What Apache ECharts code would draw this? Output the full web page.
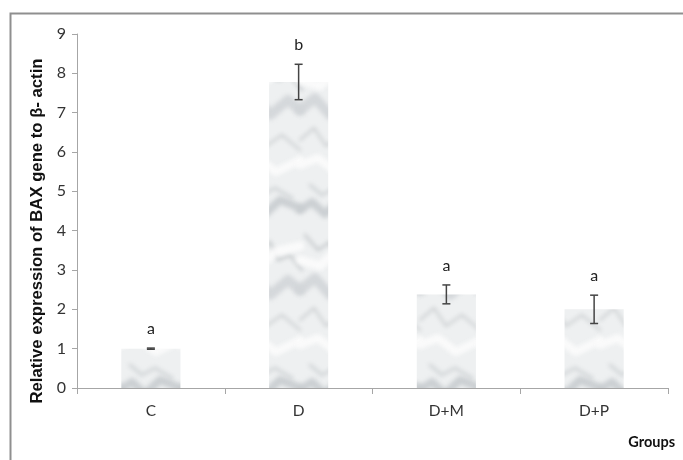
<!DOCTYPE html>
<html><head><meta charset="utf-8">
<script src="https://cdn.jsdelivr.net/npm/echarts@6/dist/echarts.min.js"></script>
<style>html,body{margin:0;padding:0;background:#fff}#c{width:683px;height:460px}</style>
</head><body><div id="c"></div>
<script>
var categories = ['C', 'D', 'D+M', 'D+P'];
var values = [1.0, 7.78, 2.38, 2.0];
var errors = [0.015, 0.45, 0.24, 0.36];
var letters = ['a', 'b', 'a', 'a'];
var yTicks = [0, 1, 2, 3, 4, 5, 6, 7, 8, 9];

// soft marble-like texture (fixed hand-placed veins, seamless tile)
var TW = 60, TH = 180;
var pc = document.createElement('canvas');
pc.width = TW; pc.height = TH;
var g = pc.getContext('2d');
g.fillStyle = '#eef0f1'; g.fillRect(0, 0, TW, TH);
g.filter = 'blur(2px)';
g.lineCap = 'round'; g.lineJoin = 'round';
var veins = [
  { c: 'rgba(200,204,207,0.9)', w: 8, p: [[0,30],[12,22],[25,34],[40,20],[60,28]] },
  { c: 'rgba(160,166,170,0.55)', w: 2.5, p: [[5,55],[18,70],[30,62],[38,80],[50,75],[62,90]] },
  { c: 'rgba(210,213,216,0.9)', w: 10, p: [[0,110],[15,98],[30,115],[48,100],[60,110]] },
  { c: 'rgba(150,156,160,0.45)', w: 2, p: [[0,140],[14,128],[26,146],[42,135],[60,150]] },
  { c: 'rgba(252,252,252,0.9)', w: 9, p: [[0,80],[20,86],[35,72],[60,66]] },
  { c: 'rgba(252,252,252,0.9)', w: 8, p: [[0,165],[18,158],[36,172],[60,160]] },
  { c: 'rgba(180,186,190,0.5)', w: 3, p: [[10,5],[22,15],[35,8],[52,18]] }
];
[-1, 0, 1].forEach(function (ox) {
  [-1, 0, 1].forEach(function (oy) {
    veins.forEach(function (v) {
      g.strokeStyle = v.c; g.lineWidth = v.w;
      g.beginPath(); g.moveTo(v.p[0][0] + ox * TW, v.p[0][1] + oy * TH);
      for (var j = 1; j < v.p.length; j++) g.lineTo(v.p[j][0] + ox * TW, v.p[j][1] + oy * TH);
      g.stroke();
    });
  });
});

var chart = echarts.init(document.getElementById('c'));
chart.setOption({
  animation: false,
  backgroundColor: '#fff',
  grid: { left: 77, right: 15, top: 34, bottom: 72 },
  xAxis: {
    type: 'category', data: categories,
    axisLine: { lineStyle: { color: '#a6a6a6', width: 1 } },
    axisTick: { show: true, length: 6, lineStyle: { color: '#a6a6a6' } },
    axisLabel: { color: '#333', fontFamily: 'Lato', fontSize: 15.5, margin: 15 }
  },
  yAxis: {
    type: 'value', min: 0, max: 9, interval: 1,
    axisLine: { show: true, lineStyle: { color: '#a6a6a6', width: 1 } },
    axisTick: { show: true, length: 5, lineStyle: { color: '#a6a6a6' } },
    splitLine: { show: false },
    axisLabel: { color: '#333', fontFamily: 'Lato', fontSize: 16, margin: 11,
      formatter: function (v) { return yTicks.indexOf(v) >= 0 ? String(v) : ''; } }
  },
  graphic: [
    { type: 'rect', left: 8, top: 11, shape: { width: 720, height: 520 },
      style: { fill: 'none', stroke: '#8f8f8f', lineWidth: 2 }, silent: true },
    { type: 'text', x: 37, y: 231, rotation: Math.PI / 2,
      style: { text: 'Relative expression of BAX gene to \u03b2- actin',
               fontFamily: 'Liberation Sans', fontWeight: 'bold', fontSize: 16.7, fill: '#111',
               align: 'center', verticalAlign: 'middle' } },
    { type: 'text', right: 8, top: 435,
      style: { text: 'Groups', fontFamily: 'Lato', fontWeight: 'bold', fontSize: 14.5, fill: '#111' } }
  ],
  series: [
    {
      type: 'bar', data: values, barWidth: '40%',
      itemStyle: { color: { image: pc, repeat: 'repeat' } }
    },
    {
      type: 'custom',
      data: categories.map(function (c, i) { return [i, values[i] - errors[i], values[i] + errors[i]]; }),
      renderItem: function (params, api) {
        var i = api.value(0);
        var lo = api.coord([i, api.value(1)]);
        var hi = api.coord([i, api.value(2)]);
        var cap = 4;
        var st = { stroke: '#444', lineWidth: 1.5 };
        return {
          type: 'group',
          children: [
            { type: 'line', shape: { x1: hi[0], y1: hi[1], x2: lo[0], y2: lo[1] }, style: st },
            { type: 'line', shape: { x1: hi[0] - cap, y1: hi[1], x2: hi[0] + cap, y2: hi[1] }, style: st },
            { type: 'line', shape: { x1: lo[0] - cap, y1: lo[1], x2: lo[0] + cap, y2: lo[1] }, style: st },
            { type: 'text', x: hi[0], y: hi[1] - 11,
              style: { text: letters[i], fontFamily: 'Lato', fontSize: 16, fill: '#222',
                       align: 'center', verticalAlign: 'bottom' } }
          ]
        };
      },
      z: 5
    }
  ]
});
</script></body></html>
